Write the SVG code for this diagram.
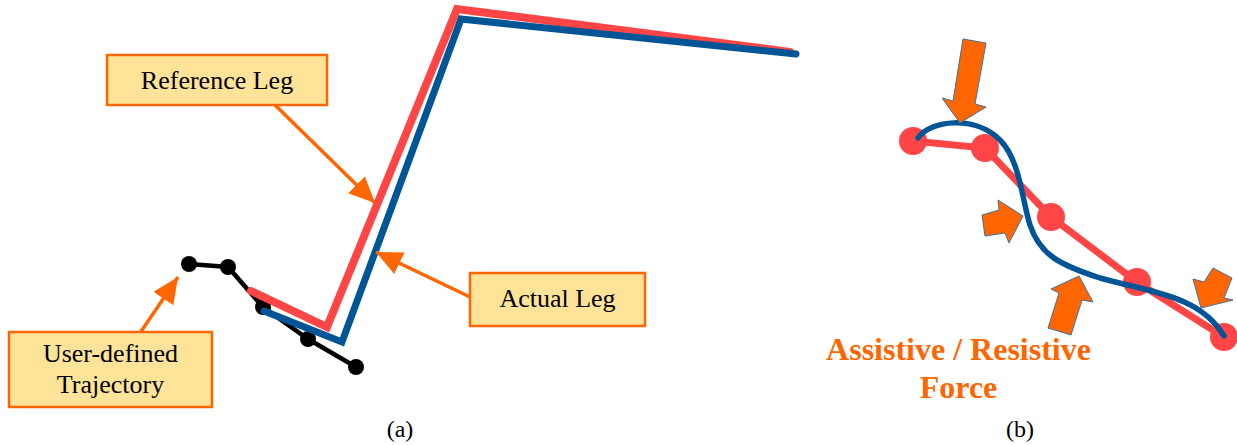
<svg xmlns="http://www.w3.org/2000/svg" width="1237" height="445" viewBox="0 0 1237 445">
<style>
.box{fill:#FFE399;stroke:#FF6600;stroke-width:2.5}
.lbl{font-family:"Liberation Serif","Times New Roman","DejaVu Serif",serif;font-size:26px;fill:#000;text-anchor:middle}
.cap{font-family:"Liberation Serif","Times New Roman","DejaVu Serif",serif;font-size:24px;fill:#000;text-anchor:middle}
.force{font-family:"Liberation Serif","Times New Roman","DejaVu Serif",serif;font-size:32px;font-weight:bold;fill:#FF6600;text-anchor:middle}
.callout{stroke:#FF6600;stroke-width:3.5;fill:none}
.red{stroke:#FF4545;stroke-width:8;fill:none;stroke-linejoin:miter;stroke-linecap:round}
.blue{stroke:#005596;stroke-width:7;fill:none;stroke-linejoin:miter;stroke-linecap:round}
.blk{stroke:#000;stroke-width:4.5;fill:none}
.dot{fill:#000}
.rdot{fill:#FF4545}
.farrow{fill:#FF6600;stroke:#41719C;stroke-width:1}
</style>
<defs>
<marker id="ah" markerUnits="userSpaceOnUse" markerWidth="28" markerHeight="24" refX="26" refY="12" orient="auto">
<path d="M0,0 L26,12 L0,24 z" fill="#FF6600"/>
</marker>
</defs>

<g id="trajectory">
<polyline class="blk" points="189,264 228,267 263,307 308,339 356,367"/>
<circle class="dot" cx="189" cy="264" r="8"/>
<circle class="dot" cx="228" cy="267" r="8"/>
<circle class="dot" cx="263" cy="307" r="8"/>
<circle class="dot" cx="308" cy="339" r="8"/>
<circle class="dot" cx="356" cy="367" r="8"/>
</g>
<g id="reference-leg-line">
<polyline class="red" points="251,291 327,327 457,9 790,52"/>
</g>
<g id="actual-leg-line">
<polyline class="blue" points="264,311 342,342 461,19 796,54"/>
</g>

<g id="connectors">
<line class="callout" x1="275" y1="105" x2="375" y2="203" marker-end="url(#ah)"/>
<line class="callout" x1="470" y1="297" x2="376" y2="252" marker-end="url(#ah)"/>
<line class="callout" x1="140" y1="333" x2="178" y2="277" marker-end="url(#ah)"/>
</g>

<g id="reference-leg">
<rect class="box" x="107" y="55" width="220" height="50"/>
<text class="lbl" x="217" y="89">Reference Leg</text>
</g>
<g id="actual-leg">
<rect class="box" x="470" y="273" width="175" height="53"/>
<text class="lbl" x="557.5" y="307">Actual Leg</text>
</g>
<g id="user-defined-trajectory">
<rect class="box" x="9" y="332" width="203" height="75"/>
<text class="lbl" x="110.5" y="362">User-defined</text>
<text class="lbl" x="110.5" y="393">Trajectory</text>
</g>

<g id="panel-b">
<polyline stroke="#FF4545" stroke-width="7" fill="none" points="913,141 985,148 1051,217 1137,282 1224,337"/>
<circle class="rdot" cx="913" cy="141" r="14"/>
<circle class="rdot" cx="985" cy="148" r="14"/>
<circle class="rdot" cx="1051" cy="217" r="14"/>
<circle class="rdot" cx="1137" cy="282" r="14"/>
<circle class="rdot" cx="1224" cy="337" r="14"/>
<path d="M918,138 C930,120 975,115 1000,140 C1020,160 1022,200 1030,225 C1040,255 1060,265 1100,278 C1150,292 1200,295 1224,336" stroke="#005596" stroke-width="5.5" fill="none" stroke-linecap="round"/>
</g>

<g id="force-arrows">
<polygon class="farrow" points="963,39 986,43 975,104 986,107 960,123 942,98 953,101"/>
<polygon class="farrow" points="982,215 999,210 998,200 1023,216 1009,243 1005,233 985,236"/>
<polygon class="farrow" points="1079,276 1093,302 1082,300 1071,335 1048,328 1059,293 1051,289"/>
<polygon class="farrow" points="1201,308 1193,279 1204,282 1213,268 1232,278 1224,298 1233,300"/>
</g>

<g id="force-label">
<text class="force" x="958.5" y="360">Assistive / Resistive</text>
<text class="force" x="958.5" y="398">Force</text>
</g>

<g id="captions">
<text class="cap" x="400" y="437">(a)</text>
<text class="cap" x="1020" y="437">(b)</text>
</g>
</svg>
